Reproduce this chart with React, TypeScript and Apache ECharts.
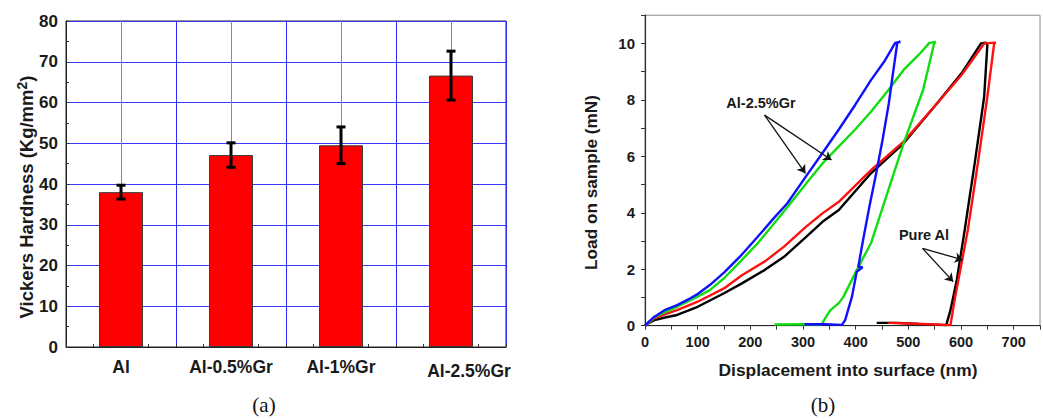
import React, { useEffect, useRef } from "react";
import * as echarts from "echarts";

// ---------- (a) Vickers hardness ----------
const categories = ["Al", "Al-0.5%Gr", "Al-1%Gr", "Al-2.5%Gr"];
const hardness = [38.0, 47.1, 49.5, 66.6];
const hardnessErr = [1.7, 3.0, 4.5, 6.0];
const hardnessTicks = [0, 10, 20, 30, 40, 50, 60, 70, 80];

// ---------- (b) load-displacement curves [nm, mN] ----------
const blueCurve: number[][] = [
  [0, 0], [8, 0.15], [18, 0.32], [37, 0.55], [61, 0.73], [86, 0.97], [100, 1.12], [123, 1.44],
  [150, 1.88], [184, 2.52], [214, 3.15], [245, 3.82], [270, 4.33], [306, 5.3], [337, 6.12],
  [368, 6.95], [399, 7.82], [429, 8.7], [454, 9.35], [475, 10.02], [485, 10.06],
  [479, 10.02], [469, 8.7], [463, 7.88], [451, 6.58], [439, 5.4], [426, 4.21], [414, 3.03],
  [405, 2.09], [413, 2.07], [402, 1.91], [393, 1.03], [380, 0.2], [374, 0.03], [340, 0.05], [303, 0.05],
];
const greenCurve: number[][] = [
  [0, 0], [8, 0.13], [18, 0.3], [40, 0.5], [61, 0.67], [100, 1.03], [123, 1.26], [150, 1.68],
  [184, 2.33], [214, 2.92], [245, 3.62], [276, 4.33], [306, 5.04], [337, 5.75], [368, 6.35],
  [399, 6.95], [429, 7.58], [460, 8.3], [491, 9.06], [520, 9.6], [540, 10.02], [552, 10.05],
  [549, 10.0], [528, 8.35], [491, 6.46], [460, 4.69], [429, 2.92], [402, 1.97], [377, 1.03],
  [368, 0.8], [352, 0.55], [340, 0.2], [336, 0.05], [300, 0.05], [246, 0.04],
];
const redCurve: number[][] = [
  [0, 0], [8, 0.12], [18, 0.26], [40, 0.42], [61, 0.55], [100, 0.85], [150, 1.32], [184, 1.79],
  [227, 2.27], [264, 2.8], [306, 3.51], [337, 3.98], [368, 4.39], [429, 5.51], [491, 6.52],
  [552, 7.82], [601, 8.88], [644, 10.0], [666, 10.03],
  [663, 10.0], [650, 8.11], [632, 5.75], [613, 3.39], [601, 2.21], [589, 1.03], [580, 0.02],
  [540, 0.05], [500, 0.08], [462, 0.1],
];
const blackCurve: number[][] = [
  [0, 0], [8, 0.1], [18, 0.2], [40, 0.3], [61, 0.38], [100, 0.67], [150, 1.15], [184, 1.5],
  [227, 1.97], [264, 2.44], [306, 3.15], [337, 3.68], [368, 4.1], [429, 5.4], [491, 6.46],
  [552, 7.82], [601, 8.94], [638, 10.0], [647, 10.03],
  [650, 9.94], [644, 8.11], [626, 5.75], [607, 3.39], [592, 1.62], [580, 0.55], [572, 0.02],
  [520, 0.06], [480, 0.1], [440, 0.1],
];
// annotation arrows (data coordinates of panel b): [start, end]
const arrowsGr: number[][][] = [
  [[227, 7.46], [304.6, 5.4]],
  [[227, 7.46], [354.2, 5.87]],
];
const arrowsAl: number[][][] = [
  [[527, 2.74], [603.6, 2.33]],
  [[527, 2.74], [585.2, 1.56]],
];

const FONT = "Liberation Sans";
const TXT = "#1a1a1a";

export default function App() {
  const ref = useRef<HTMLDivElement>(null);

  useEffect(() => {
    if (!ref.current) return;
    const chart = echarts.init(ref.current, undefined, { renderer: "svg" });

    const errData = hardness.map((v, i) => [i, v - hardnessErr[i], v + hardnessErr[i]]);

    const curveSeries = (name: string, data: number[][], color: string, extra: any = {}) => ({
      name,
      type: "line",
      xAxisIndex: 2,
      yAxisIndex: 1,
      data,
      showSymbol: false,
      symbol: "none",
      lineStyle: { color, width: 2.4 },
      itemStyle: { color },
      silent: true,
      ...extra,
    });

    const markArrows = (list: number[][][]) =>
      list.map((a) => [{ coord: a[0] }, { coord: a[1] }]);

    chart.setOption({
      animation: false,
      grid: [
        { left: 66, top: 21, width: 440, height: 326, show: true, borderColor: "#222", borderWidth: 1, backgroundColor: "transparent" },
        { left: 645, top: 15.2, width: 407.9, height: 310.5, show: true, borderColor: "#888", borderWidth: 1, backgroundColor: "transparent" },
      ],
      xAxis: [
        {
          gridIndex: 0,
          type: "category",
          data: categories,
          axisLine: { lineStyle: { color: "#222", width: 1 } },
          axisTick: { show: false },
          splitLine: { show: false },
          axisLabel: {
            interval: 0,
            hideOverlap: false,
            margin: 11,
            color: TXT,
            fontWeight: "bold",
            fontSize: 17.5,
            fontFamily: FONT,
            formatter: (v: string, i: number) => (i === categories.length - 1 ? `{r|${v}}` : v),
            rich: { r: { padding: [4, 0, 0, 36], fontWeight: "bold", fontSize: 17.5, fontFamily: FONT, color: TXT } },
          },
        },
        {
          gridIndex: 0,
          type: "value",
          min: 0,
          max: 4,
          interval: 0.5,
          position: "bottom",
          axisLine: { show: false },
          axisLabel: { show: false },
          axisTick: { show: true, inside: true, length: 3, lineStyle: { color: "#333" } },
          minorTick: { show: true, splitNumber: 2, length: 3, lineStyle: { color: "#333" } },
          splitLine: { show: true, lineStyle: { color: ["#2a2aff", "#7a7aff"], width: 1 } },
        },
        {
          gridIndex: 1,
          type: "value",
          min: 0,
          max: 750,
          interval: 100,
          axisLine: { lineStyle: { color: "#222", width: 1.2 } },
          axisTick: { show: true, length: 4, lineStyle: { color: "#333" } },
          minorTick: { show: true, splitNumber: 2, length: 4, lineStyle: { color: "#333" } },
          splitLine: { show: false },
          axisLabel: {
            margin: 9,
            color: TXT,
            fontWeight: "bold",
            fontSize: 14.5,
            fontFamily: FONT,
            formatter: (v: number) => (v % 100 === 0 && v <= 700 ? String(v) : ""),
          },
        },
      ],
      yAxis: [
        {
          gridIndex: 0,
          type: "value",
          min: 0,
          max: 80,
          interval: 10,
          axisLine: { show: true, lineStyle: { color: "#222", width: 1 } },
          axisTick: { show: true, inside: true, length: 3, lineStyle: { color: "#333" } },
          minorTick: { show: true, splitNumber: 2, length: 3, lineStyle: { color: "#333" } },
          splitLine: { show: true, lineStyle: { color: "#3a3aff", width: 1 } },
          axisLabel: {
            margin: 8,
            color: TXT,
            fontWeight: "bold",
            fontSize: 17,
            fontFamily: FONT,
            formatter: (v: number) => (hardnessTicks.includes(v) ? String(v) : ""),
          },
        },
        {
          gridIndex: 1,
          type: "value",
          min: 0,
          max: 11,
          interval: 2,
          showMaxLabel: false,
          axisLine: { show: true, lineStyle: { color: "#333", width: 1.2 } },
          axisTick: { show: true, length: 4, lineStyle: { color: "#333" } },
          minorTick: { show: true, splitNumber: 2, length: 4, lineStyle: { color: "#333" } },
          splitLine: { show: false },
          axisLabel: {
            margin: 10,
            color: TXT,
            fontWeight: "bold",
            fontSize: 15,
            fontFamily: FONT,
            formatter: (v: number) => (v <= 10 && v % 2 === 0 ? String(v) : ""),
          },
        },
      ],
      series: [
        {
          name: "Vickers Hardness",
          type: "bar",
          xAxisIndex: 0,
          yAxisIndex: 0,
          data: hardness,
          barWidth: "40%",
          itemStyle: { color: "#ff0000", borderColor: "#3a3a3a", borderWidth: 1 },
          silent: true,
          z: 3,
        },
        {
          name: "Error",
          type: "custom",
          xAxisIndex: 0,
          yAxisIndex: 0,
          data: errData,
          encode: { x: 0, y: [1, 2] },
          silent: true,
          z: 5,
          renderItem: (params: any, api: any) => {
            const i = api.value(0);
            const lo = api.coord([i, api.value(1)]);
            const hi = api.coord([i, api.value(2)]);
            const cap = 4.5;
            const st = { stroke: "#000", lineWidth: 3 };
            return {
              type: "group",
              children: [
                { type: "line", shape: { x1: lo[0], y1: lo[1], x2: hi[0], y2: hi[1] }, style: st },
                { type: "line", shape: { x1: hi[0] - cap, y1: hi[1], x2: hi[0] + cap, y2: hi[1] }, style: st },
                { type: "line", shape: { x1: lo[0] - cap, y1: lo[1], x2: lo[0] + cap, y2: lo[1] }, style: st },
              ],
            };
          },
        },
        curveSeries("Pure Al (2)", blackCurve, "#000000", {
          markLine: {
            silent: true,
            symbol: ["none", "arrow"],
            symbolSize: 8,
            label: { show: false },
            lineStyle: { color: "#111", width: 1.3, type: "solid" },
            data: [...markArrows(arrowsGr), ...markArrows(arrowsAl)],
          },
        }),
        curveSeries("Pure Al (1)", redCurve, "#ff1010"),
        curveSeries("Al-2.5%Gr (2)", greenCurve, "#12dd12"),
        curveSeries("Al-2.5%Gr (1)", blueCurve, "#1010ff"),
      ],
      graphic: [
        {
          type: "text",
          x: 26,
          y: 197,
          rotation: Math.PI / 2,
          style: {
            text: "Vickers Hardness (Kg/mm{s|2})",
            font: `bold 18.5px "${FONT}"`,
            fill: TXT,
            align: "center",
            verticalAlign: "middle",
            rich: { s: { fontSize: 14, fontWeight: "bold", fontFamily: FONT, fill: TXT, padding: [0, 0, 9, 0] } },
          },
        },
        {
          type: "text",
          x: 591,
          y: 182.5,
          rotation: Math.PI / 2,
          style: { text: "Load on sample (mN)", font: `bold 17.2px "${FONT}"`, fill: TXT, align: "center", verticalAlign: "middle" },
        },
        {
          type: "text",
          x: 848,
          y: 370,
          style: { text: "Displacement into surface (nm)", font: `bold 17.4px "${FONT}"`, fill: TXT, align: "center", verticalAlign: "middle" },
        },
        {
          type: "text",
          x: 761,
          y: 103,
          style: { text: "Al-2.5%Gr", font: `bold 14.5px "${FONT}"`, fill: TXT, align: "center", verticalAlign: "middle" },
        },
        {
          type: "text",
          x: 924,
          y: 234.5,
          style: { text: "Pure Al", font: `bold 14.5px "${FONT}"`, fill: TXT, align: "center", verticalAlign: "middle" },
        },
        {
          type: "text",
          x: 264,
          y: 405,
          style: { text: "(a)", font: `21px "Liberation Serif"`, fill: "#111", align: "center", verticalAlign: "middle" },
        },
        {
          type: "text",
          x: 823,
          y: 405,
          style: { text: "(b)", font: `21px "Liberation Serif"`, fill: "#111", align: "center", verticalAlign: "middle" },
        },
      ],
    });

    return () => chart.dispose();
  }, []);

  return (
    <div
      ref={ref}
      style={{ position: "absolute", left: 0, top: 0, width: 1043, height: 419, background: "#fff" }}
    />
  );
}
